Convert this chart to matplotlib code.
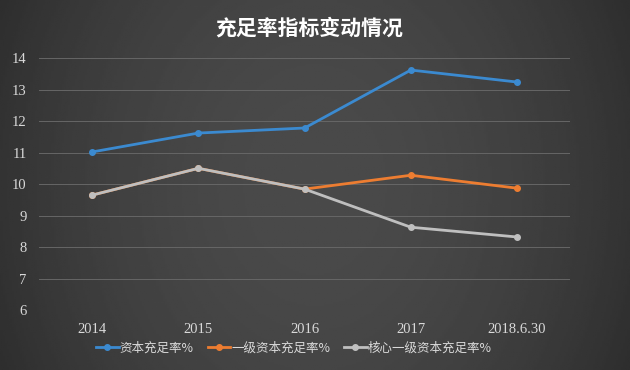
import numpy as np
import matplotlib
matplotlib.use("Agg")
import matplotlib.pyplot as plt

plt.rcParams['font.family'] = ['Noto Sans CJK SC', 'DejaVu Sans']

categories = ["2014", "2015", "2016", "2017", "2018.6.30"]
car = [11.02, 11.62, 11.78, 13.62, 13.24]
tier1 = [9.65, 10.5, 9.84, 10.28, 9.87]
core_tier1 = [9.65, 10.5, 9.84, 8.63, 8.32]
labels = ["资本充足率%", "一级资本充足率%", "核心一级资本充足率%"]
colors = ["#3b8ad0", "#ed7d31", "#bfbfbf"]

fig = plt.figure(figsize=(6.3, 3.7), dpi=100)

# background gradient: darker at the edges, lighter in the middle
bg = fig.add_axes([0, 0, 1, 1], zorder=-10)
xx = np.linspace(-1, 1, 300)
yy = np.linspace(-1, 1, 200)
X, Y = np.meshgrid(xx, yy)
shade = 0.29 - 0.09 * (X ** 2) - 0.02 * (Y ** 2)
bg.imshow(shade, cmap="gray", vmin=0, vmax=1, aspect="auto", extent=[0, 1, 0, 1])
bg.axis("off")

ax = fig.add_axes([0.062, 0.162, 0.843, 0.681])
ax.set_facecolor("none")
x = np.arange(len(categories))

for vals, c, lab in [(car, colors[0], labels[0]),
                     (tier1, colors[1], labels[1]),
                     (core_tier1, colors[2], labels[2])]:
    ax.plot(x, vals, color=c, lw=2, marker="o", ms=4, label=lab)

ax.set_ylim(6, 14)
ax.set_yticks(range(6, 15))
ax.set_xlim(-0.5, len(categories) - 0.5)
ax.set_xticks(x)
ax.set_xticklabels(categories)
ax.grid(axis="y", color="#666666", lw=0.7)
ax.set_axisbelow(True)
for s in ax.spines.values():
    s.set_visible(False)
ax.tick_params(length=0, colors="#d9d9d9", labelsize=10.5, pad=9)
for t in ax.get_xticklabels() + ax.get_yticklabels():
    t.set_family(["Liberation Serif", "DejaVu Serif"])

fig.text(0.49, 0.925, "充足率指标变动情况", color="white", fontsize=15,
         fontweight="bold", ha="center", va="center")

ax.legend(loc="upper center", bbox_to_anchor=(0.48, -0.105), ncol=3, frameon=False,
          fontsize=9, labelcolor="#d9d9d9", handlelength=1.8, handletextpad=0.1,
          columnspacing=1.1, borderaxespad=0)

fig.savefig("out.png", dpi=100)
